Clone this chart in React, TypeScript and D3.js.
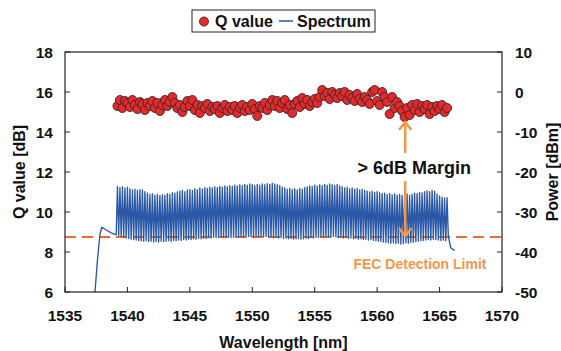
import React from 'react';
import * as d3 from 'd3';

const W = 561;
const H = 351;
const margin = { top: 52, right: 59, bottom: 59, left: 65 };
const FONT = '"Liberation Sans", Arial, Helvetica, sans-serif';

const wlTicks = [1535, 1540, 1545, 1550, 1555, 1560, 1565, 1570];
const qTicks = [6, 8, 10, 12, 14, 16, 18];
const powerTicks = [-50, -40, -30, -20, -10, 0, 10];

// channel grid (nm)
const chStart = 1539.2;
const chSpacing = 0.2;

const qValues = [
  15.3, 15.6, 15.2, 15.55, 15.45, 15.25, 15.6, 15.35, 15.15, 15.5,
  15.4, 15.1, 15.45, 15.3, 15.55, 15.2, 15.45, 15.05, 15.35, 15.6,
  15.3, 15.5, 15.75, 15.45, 15.2, 15.35, 15.0, 15.25, 15.55, 15.3,
  15.6, 15.1, 15.35, 14.95, 15.3, 15.2, 15.4, 15.05, 15.25, 15.15,
  15.3, 14.95, 15.2, 15.35, 15.05, 15.25, 15.1, 15.3, 14.95, 15.2,
  15.35, 15.05, 15.25, 15.1, 15.4, 15.15, 14.8, 15.3, 15.2, 15.45,
  15.1, 15.35, 15.6, 15.3, 15.55, 15.2, 15.45, 15.6, 15.15, 15.35,
  14.95, 15.4, 15.55, 15.25, 15.7, 15.4, 15.6, 15.3, 15.5, 15.65,
  15.45, 15.75, 16.1, 15.8, 15.95, 15.65, 16.0, 15.85, 15.7, 15.95,
  15.8, 16.0, 15.6, 15.85, 15.7, 15.55, 15.9, 15.65, 15.5, 15.75,
  15.6, 15.4, 16.0, 16.1, 15.55, 15.35, 16.0, 15.75, 15.5, 14.9,
  15.75, 15.2, 15.5, 15.3, 15.05, 14.75, 15.2, 14.85, 15.35, 15.1,
  15.4, 15.0, 15.3, 15.15, 15.35, 14.9, 15.25, 15.05, 15.3, 15.15,
  15.35, 15.0, 15.2,
];

// spectrum: channel peaks (dBm), one per channel
const peakPower = [
  -23.6, -23.9, -23.7, -24.0, -23.8, -24.2, -24.5, -24.3, -24.6, -24.4,
  -24.5, -24.9, -25.3, -25.6, -25.4, -25.8, -25.6, -25.9, -25.7, -25.8,
  -25.4, -25.6, -25.2, -25.3, -25.0, -24.8, -24.6, -24.9, -24.5, -24.4,
  -24.6, -24.2, -24.4, -24.0, -24.3, -23.9, -24.1, -23.8, -24.0, -23.7,
  -23.9, -23.6, -23.8, -23.5, -23.7, -23.4, -23.6, -23.3, -23.5, -23.2,
  -23.4, -23.1, -23.3, -23.0, -23.2, -23.4, -23.1, -23.3, -23.0, -23.2,
  -22.9, -23.1, -22.8, -23.0, -23.2, -23.4, -23.8, -24.0, -24.3, -24.1,
  -24.4, -24.2, -24.5, -24.1, -24.3, -23.9, -23.7, -23.5, -23.6, -23.3,
  -23.5, -23.2, -23.4, -23.1, -23.3, -23.0, -23.2, -23.4, -23.1, -23.5,
  -23.7, -24.0, -23.8, -24.2, -24.0, -24.3, -24.1, -24.5, -24.3, -24.6,
  -24.8, -25.0, -24.8, -25.1, -24.9, -25.2, -25.4, -25.3, -25.6, -25.4,
  -25.7, -25.5, -25.8, -25.6, -25.9, -25.7, -25.5, -25.8, -25.6, -25.3,
  -25.4, -25.1, -25.2, -24.9, -24.7, -24.9, -24.6, -24.8, -25.5, -26.0,
  -26.3, -26.5, -26.4,
];

// spectrum: troughs between channels (dBm), one before each channel and one after the last
const troughPower = [
  -35.7, -35.9, -36.1, -36.3, -36.5, -36.6, -36.8, -36.9, -37.0, -37.1,
  -37.2, -37.3, -37.2, -37.4, -37.3, -37.5, -37.4, -37.5, -37.3, -37.4,
  -37.3, -37.2, -37.4, -37.1, -37.2, -37.0, -37.1, -36.9, -37.0, -36.8,
  -36.9, -36.7, -36.8, -36.6, -36.7, -36.5, -36.6, -36.4, -36.5, -36.3,
  -36.4, -36.3, -36.2, -36.4, -36.3, -36.2, -36.4, -36.3, -36.1, -36.3,
  -36.2, -36.4, -36.3, -36.1, -36.2, -36.3, -36.1, -36.2, -36.0, -36.2,
  -36.1, -36.3, -36.2, -36.4, -36.3, -36.5, -36.4, -36.6, -36.5, -36.7,
  -36.6, -36.8, -36.7, -36.6, -36.8, -36.7, -36.5, -36.6, -36.4, -36.5,
  -36.3, -36.4, -36.2, -36.3, -36.1, -36.2, -36.3, -36.1, -36.2, -36.4,
  -36.3, -36.5, -36.4, -36.6, -36.5, -36.7, -36.6, -36.8, -36.7, -36.9,
  -36.8, -37.0, -36.9, -37.1, -37.2, -37.3, -37.4, -37.5, -37.6, -37.7,
  -37.8, -37.7, -37.9, -37.8, -38.0, -37.9, -37.7, -37.8, -37.6, -37.5,
  -37.4, -37.3, -37.2, -37.1, -37.0, -36.9, -37.0, -36.8, -36.9, -37.0,
  -37.1, -37.0, -37.2, -36.0,
];

// ASE edge before the comb and tail after it
const riseWl = [1537.4, 1537.6, 1537.8, 1537.95, 1538.3, 1538.7];
const risePower = [-50, -42, -35.5, -33.8, -34.5, -35.2];
const tailWl = [1565.9, 1566.2];
const tailPower = [-39.0, -39.6];

const fecLimit = 8.75;
const marginArrowWl = 1562.25;

const BLUE = '#2a58a6';
const RED = '#e8282b';
const ORANGE = '#ee6b2d';
const LIGHT_ORANGE = '#f5964b';

export default function App() {
  const iw = W - margin.left - margin.right;
  const ih = H - margin.top - margin.bottom;

  const x = d3.scaleLinear().domain([1535, 1570]).range([margin.left, margin.left + iw]);
  const yQ = d3.scaleLinear().domain([6, 18]).range([margin.top + ih, margin.top]);
  const yP = d3.scaleLinear().domain([-50, 10]).range([margin.top + ih, margin.top]);

  const spectrum: [number, number][] = [];
  riseWl.forEach((w, i) => spectrum.push([w, risePower[i]]));
  peakPower.forEach((p, i) => {
    const wl = chStart + i * chSpacing;
    spectrum.push([wl - chSpacing / 2, troughPower[i]]);
    spectrum.push([wl, p]);
  });
  spectrum.push([chStart + (peakPower.length - 0.5) * chSpacing, troughPower[peakPower.length]]);
  tailWl.forEach((w, i) => spectrum.push([w, tailPower[i]]));

  const line = d3.line<[number, number]>()
    .x(d => x(d[0]))
    .y(d => yP(d[1]));

  const qPoints = qValues.map((q, i) => ({ wl: chStart + i * chSpacing, q }));

  const ax = x(marginArrowWl);
  const upTip = yQ(14.55);
  const upEnd = yQ(13.0);
  const downStart = yQ(11.5);
  const downTip = yQ(fecLimit);

  const tickLen = 5;
  const axisColor = '#222';

  return (
    <svg width={W} height={H} style={{ position: 'absolute', left: 0, top: 0, background: '#fff' }}
      fontFamily={FONT} fontWeight="bold">
      <defs>
        <clipPath id="plot">
          <rect x={margin.left} y={margin.top} width={iw} height={ih} />
        </clipPath>
      </defs>

      {/* FEC limit */}
      <line x1={margin.left} x2={margin.left + iw} y1={yQ(fecLimit)} y2={yQ(fecLimit)}
        stroke={ORANGE} strokeWidth={2} strokeDasharray="11,6" />

      {/* spectrum */}
      <path d={line(spectrum) || ''} fill="none" stroke={BLUE} strokeWidth={1.35} clipPath="url(#plot)"
        strokeLinejoin="round" />

      {/* Q values */}
      <g clipPath="url(#plot)">
        {qPoints.map((d, i) => (
          <circle key={i} cx={x(d.wl)} cy={yQ(d.q)} r={4.5} fill={RED} stroke="#2a2a2a" strokeWidth={0.9} />
        ))}
      </g>

      {/* frame */}
      <rect x={margin.left} y={margin.top} width={iw} height={ih} fill="none" stroke={axisColor} strokeWidth={1.2} />

      {/* bottom axis */}
      {wlTicks.map(t => (
        <g key={t}>
          <line x1={x(t)} x2={x(t)} y1={margin.top + ih} y2={margin.top + ih - tickLen} stroke={axisColor} strokeWidth={1} />
          <text x={x(t)} y={321} textAnchor="middle" fontSize={15.5} fill="#111">{t}</text>
        </g>
      ))}
      {/* left axis */}
      {qTicks.map(t => (
        <g key={t}>
          <line x1={margin.left} x2={margin.left + tickLen} y1={yQ(t)} y2={yQ(t)} stroke={axisColor} strokeWidth={1} />
          <text x={53} y={yQ(t) + 5.5} textAnchor="end" fontSize={15.5} fill="#111">{t}</text>
        </g>
      ))}
      {/* right axis */}
      {powerTicks.map(t => (
        <g key={t}>
          <line x1={margin.left + iw} x2={margin.left + iw - tickLen} y1={yP(t)} y2={yP(t)} stroke={axisColor} strokeWidth={1} />
          <text x={515} y={yP(t) + 5.5} textAnchor="start" fontSize={15.5} fill="#111">{t}</text>
        </g>
      ))}

      {/* axis titles */}
      <text x={margin.left + iw / 2} y={348} textAnchor="middle" fontSize={16} fill="#111">Wavelength [nm]</text>
      <text transform={`translate(25,${margin.top + ih / 2}) rotate(-90)`} textAnchor="middle" fontSize={16} fill="#111">Q value [dB]</text>
      <text transform={`translate(558,${margin.top + ih / 2}) rotate(-90)`} textAnchor="middle" fontSize={16} fill="#111">Power [dBm]</text>

      {/* margin arrows */}
      <g stroke={LIGHT_ORANGE} strokeWidth={2.5} fill="none" strokeLinecap="round" strokeLinejoin="round">
        <line x1={ax} x2={ax} y1={upTip + 1} y2={upEnd} />
        <polyline points={`${ax - 5.5},${upTip + 8} ${ax},${upTip + 1} ${ax + 5.5},${upTip + 8}`} />
        <line x1={ax} x2={ax} y1={downStart} y2={downTip - 1} />
        <polyline points={`${ax - 5.5},${downTip - 8} ${ax},${downTip - 1} ${ax + 5.5},${downTip - 8}`} />
      </g>
      <text x={ax + 9} y={174} textAnchor="middle" fontSize={18} fill="#111">&gt; 6dB Margin</text>
      <text x={420} y={269} textAnchor="middle" fontSize={14} fill={LIGHT_ORANGE}>FEC Detection Limit</text>

      {/* legend */}
      <rect x={192} y={10} width={183} height={22} fill="#fff" stroke="#222" strokeWidth={1} />
      <circle cx={204} cy={21.5} r={4.5} fill={RED} stroke="#2a2a2a" strokeWidth={0.9} />
      <text x={215} y={27} fontSize={16} fill="#111">Q value</text>
      <line x1={279} x2={293} y1={21} y2={21} stroke={BLUE} strokeWidth={1.5} />
      <text x={297} y={27} fontSize={16} fill="#111">Spectrum</text>
    </svg>
  );
}
